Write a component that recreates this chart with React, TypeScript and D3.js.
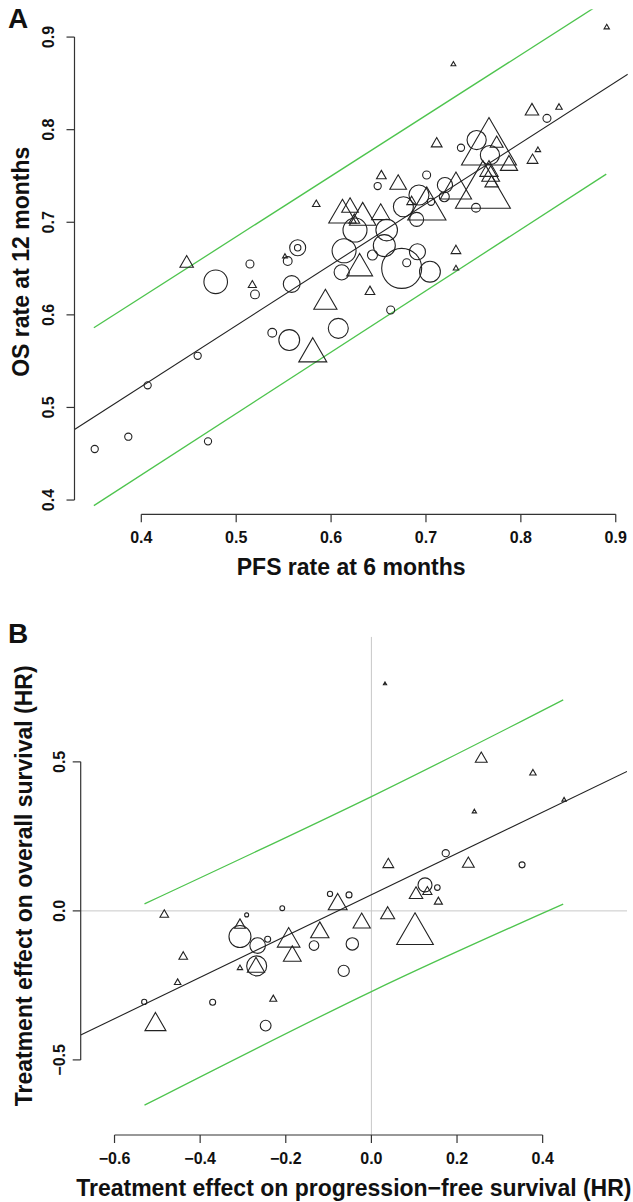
import React from "react";
import * as d3 from "d3";

// ---------- Panel A data: PFS rate at 6 months vs OS rate at 12 months ----------
// circles (pch 1)
const aCircX = [0.3509, 0.3863, 0.4067, 0.4594, 0.4703, 0.4784, 0.5145, 0.5198, 0.5543, 0.5585, 0.5648, 0.5648, 0.538, 0.5559, 0.6076, 0.6628, 0.6112, 0.6137, 0.6252, 0.6586, 0.6561, 0.6436, 0.6744, 0.6797, 0.691, 0.7042, 0.6762, 0.6926, 0.6902, 0.7053, 0.72, 0.7193, 0.7527, 0.7534, 0.7674, 0.7369, 0.6491, 0.7007, 0.8275];
const aCircY = [0.4551, 0.4684, 0.5239, 0.5558, 0.4634, 0.6357, 0.6549, 0.6221, 0.6581, 0.6333, 0.6725, 0.6725, 0.5807, 0.5728, 0.5854, 0.6052, 0.6459, 0.6692, 0.6916, 0.6916, 0.6748, 0.6646, 0.6502, 0.6563, 0.6681, 0.6466, 0.7167, 0.7294, 0.7031, 0.7221, 0.7402, 0.7276, 0.7157, 0.7888, 0.7726, 0.7805, 0.7391, 0.751, 0.8122];
const aCircW = [0.9, 0.9, 0.9, 0.9, 0.9, 2.95, 1.0, 1.1, 1.1, 2.1, 2.0, 0.8, 1.1, 2.6, 2.5, 1.0, 1.9, 3.0, 3.0, 2.7, 2.75, 1.25, 5.0, 1.0, 2.0, 2.6, 2.5, 2.5, 1.75, 0.9, 1.9, 1.25, 1.1, 2.4, 2.4, 0.9, 0.9, 1.0, 1.0];
// triangles (pch 2)
const aTriX = [0.4478, 0.517, 0.5514, 0.594, 0.5807, 0.5844, 0.612, 0.62, 0.6245, 0.6333, 0.6523, 0.6301, 0.641, 0.653, 0.6707, 0.6849, 0.7009, 0.7113, 0.7316, 0.7316, 0.7316, 0.76, 0.7664, 0.7745, 0.7875, 0.7664, 0.7682, 0.7692, 0.8117, 0.8402, 0.818, 0.8123, 0.7289, 0.8905];
const aTriY = [0.6556, 0.632, 0.663, 0.6132, 0.5579, 0.7193, 0.7077, 0.716, 0.7023, 0.705, 0.7086, 0.6502, 0.625, 0.75, 0.7408, 0.7221, 0.7143, 0.7848, 0.7348, 0.6692, 0.6502, 0.7323, 0.7789, 0.7851, 0.7614, 0.7553, 0.7499, 0.7424, 0.82, 0.824, 0.778, 0.767, 0.8705, 0.9105];
const aTriW = [1.25, 0.75, 0.45, 2.15, 2.6, 0.7, 2.55, 1.55, 1.0, 2.45, 1.7, 2.4, 0.9, 0.9, 1.55, 0.9, 3.55, 1.0, 2.9, 0.9, 0.5, 5.1, 5.1, 1.2, 1.6, 1.7, 1.65, 1.25, 1.25, 0.6, 0.5, 1.0, 0.45, 0.5];
// regression line and prediction band
const aFit = { intercept: 0.2594, slope: 0.658 };
const aBandX = [0.35, 0.89];
const aBandUpper = [0.586, 0.94];
const aBandLower = [0.394, 0.752];
const aTicksX = [0.4, 0.5, 0.6, 0.7, 0.8, 0.9];
const aTicksY = [0.4, 0.5, 0.6, 0.7, 0.8, 0.9];

// ---------- Panel B data: treatment effects (log HR) ----------
const bCircX = [0.1736, 0.3519, 0.1252, 0.154, -0.0446, -0.0647, -0.0967, -0.0523, -0.1341, -0.2082, -0.2423, -0.2657, -0.307, -0.2914, -0.268, -0.247, -0.3708, -0.5306];
const bCircY = [0.1936, 0.1544, 0.0872, 0.0783, -0.1107, -0.2013, 0.057, 0.0537, -0.1164, 0.009, -0.095, -0.1164, -0.0862, -0.0134, -0.1846, -0.385, -0.3064, -0.3054];
const bCircW = [0.9, 0.75, 1.75, 0.7, 1.55, 1.4, 0.65, 0.75, 1.2, 0.6, 0.75, 1.95, 2.75, 0.5, 2.5, 1.35, 0.75, 0.65];
const bTriX = [0.0318, 0.0395, 0.2264, 0.2405, 0.2566, 0.3773, 0.45, 0.1042, 0.1307, 0.1564, 0.1019, 0.038, -0.0227, -0.0787, -0.1205, -0.1933, -0.1848, -0.307, -0.2696, -0.307, -0.2292, -0.4395, -0.4526, -0.5044, -0.4838];
const bTriY = [0.762, 0.1557, 0.1577, 0.333, 0.51, 0.462, 0.3725, 0.0547, 0.0638, 0.0305, -0.0772, -0.013, -0.0406, 0.0221, -0.0724, -0.0996, -0.1517, -0.0477, -0.189, -0.192, -0.2963, -0.1537, -0.2406, -0.3815, -0.013];
const bTriW = [0.3, 1.0, 1.1, 0.4, 1.1, 0.6, 0.4, 1.25, 0.85, 0.75, 3.4, 1.3, 1.6, 1.75, 1.7, 2.1, 1.65, 1.0, 1.6, 0.5, 0.65, 0.8, 0.6, 1.95, 0.8];
const bFit = { intercept: 0.054, slope: 0.693 };
const bBandX = [-0.53, 0.0, 0.448];
const bBandUpper = [0.0235, 0.3836, 0.708];
const bBandLower = [-0.652, -0.2708, 0.0225];
const bTicksX = [-0.6, -0.4, -0.2, 0.0, 0.2, 0.4];
const bTicksY = [-0.5, 0.0, 0.5];

const FONT = "'Liberation Sans', Arial, Helvetica, sans-serif";
const GREEN = "#4ec44e";
const INK = "#222";

// symbol size: cex -> radius in px
const sizeScale = d3.scaleLinear().domain([0, 1]).range([0, 4]);

function triPath(cx: number, cy: number, R: number) {
  const p = d3.path();
  p.moveTo(cx, cy - 1.5551 * R);
  p.lineTo(cx + 1.3468 * R, cy + 0.7776 * R);
  p.lineTo(cx - 1.3468 * R, cy + 0.7776 * R);
  p.closePath();
  return p.toString();
}

type PanelProps = {
  id: string;
  letter: string;
  letterY: number;
  box: { left: number; right: number; top: number; bottom: number };
  xDom: [number, number];
  yDom: [number, number];
  circX: number[]; circY: number[]; circW: number[];
  triX: number[]; triY: number[]; triW: number[];
  fit: { intercept: number; slope: number };
  bandX: number[]; bandU: number[]; bandL: number[];
  ticksX: number[]; ticksY: number[];
  fmt: (v: number) => string;
  xTitle: string; yTitle: string;
  yLabelX: number; yTitleX: number;
  refLines: boolean;
};

function Panel(p: PanelProps) {
  const x = d3.scaleLinear().domain(p.xDom).range([p.box.left, p.box.right]);
  const y = d3.scaleLinear().domain(p.yDom).range([p.box.bottom, p.box.top]);
  const clipId = "clip-" + p.id;
  const fitLine = d3.line<number>().x((v) => x(v)).y((v) => y(p.fit.intercept + p.fit.slope * v));
  const band = (vals: number[]) =>
    d3.line<number>()
      .x((_, i) => x(p.bandX[i]))
      .y((v) => y(v))
      .curve(vals.length > 2 ? d3.curveNatural : d3.curveLinear)(vals) || "";
  const cx = (p.box.left + p.box.right) / 2;
  const cy = (p.box.top + p.box.bottom) / 2;
  const tickLen = 8;
  return (
    <g>
      <defs>
        <clipPath id={clipId}>
          <rect x={p.box.left} y={p.box.top} width={p.box.right - p.box.left} height={p.box.bottom - p.box.top} />
        </clipPath>
      </defs>
      <text x={8} y={p.letterY} fontFamily={FONT} fontWeight="bold" fontSize={28} fill="#111">{p.letter}</text>
      <g clipPath={`url(#${clipId})`}>
        {p.refLines && (
          <g stroke="#c8c8c8" strokeWidth={1}>
            <line x1={x(0)} x2={x(0)} y1={p.box.top} y2={p.box.bottom} />
            <line x1={p.box.left} x2={p.box.right} y1={y(0)} y2={y(0)} />
          </g>
        )}
        <path d={band(p.bandU)} fill="none" stroke={GREEN} strokeWidth={1.3} />
        <path d={band(p.bandL)} fill="none" stroke={GREEN} strokeWidth={1.3} />
        <path d={fitLine(p.xDom) || ""} fill="none" stroke={INK} strokeWidth={1.1} />
        {p.circX.map((v, i) => (
          <circle key={"c" + i} cx={x(v)} cy={y(p.circY[i])} r={sizeScale(p.circW[i])} fill="none" stroke={INK} strokeWidth={1.1} />
        ))}
        {p.triX.map((v, i) => (
          <path key={"t" + i} d={triPath(x(v), y(p.triY[i]), sizeScale(p.triW[i]))} fill="none" stroke={INK} strokeWidth={1.1} strokeLinejoin="miter" />
        ))}
      </g>
      {/* y axis */}
      <g stroke="#333" strokeWidth={1.2}>
        <line x1={p.box.left} x2={p.box.left} y1={y(p.ticksY[0])} y2={y(p.ticksY[p.ticksY.length - 1])} />
        {p.ticksY.map((t) => (
          <line key={"yt" + t} x1={p.box.left - tickLen} x2={p.box.left} y1={y(t)} y2={y(t)} />
        ))}
        <line x1={x(p.ticksX[0])} x2={x(p.ticksX[p.ticksX.length - 1])} y1={p.box.bottom} y2={p.box.bottom} />
        {p.ticksX.map((t) => (
          <line key={"xt" + t} x1={x(t)} x2={x(t)} y1={p.box.bottom} y2={p.box.bottom + tickLen} />
        ))}
      </g>
      <g fontFamily={FONT} fontWeight="bold" fontSize={16} fill="#111" textAnchor="middle">
        {p.ticksY.map((t) => (
          <text key={"yl" + t} transform={`translate(${p.yLabelX},${y(t)}) rotate(-90)`}>{p.fmt(t)}</text>
        ))}
        {p.ticksX.map((t) => (
          <text key={"xl" + t} x={x(t)} y={p.box.bottom + 29}>{p.fmt(t)}</text>
        ))}
      </g>
      <g fontFamily={FONT} fontWeight="bold" fontSize={23} fill="#111" textAnchor="middle">
        <text x={cx} y={p.box.bottom + 61}>{p.xTitle}</text>
        <text transform={`translate(${p.yTitleX},${cy}) rotate(-90)`}>{p.yTitle}</text>
      </g>
    </g>
  );
}

export default function App() {
  const fmt1 = d3.format(".1f");
  return (
    <svg width={633} height={1202} style={{ position: "absolute", left: 0, top: 0, background: "#fff" }}>
      <rect width={633} height={1202} fill="#fff" />
      <Panel
        id="a" letter="A" letterY={28}
        box={{ left: 74.5, right: 627.8, top: 9.3, bottom: 514.3 }}
        xDom={[0.3296, 0.9127]} yDom={[0.3846, 0.93]}
        circX={aCircX} circY={aCircY} circW={aCircW}
        triX={aTriX} triY={aTriY} triW={aTriW}
        fit={aFit} bandX={aBandX} bandU={aBandUpper} bandL={aBandLower}
        ticksX={aTicksX} ticksY={aTicksY} fmt={fmt1}
        xTitle="PFS rate at 6 months" yTitle="OS rate at 12 months"
        yLabelX={54} yTitleX={29} refLines={false}
      />
      <Panel
        id="b" letter="B" letterY={643}
        box={{ left: 80.7, right: 627, top: 636.7, bottom: 1135 }}
        xDom={[-0.679, 0.597]} yDom={[-0.752, 0.92]}
        circX={bCircX} circY={bCircY} circW={bCircW}
        triX={bTriX} triY={bTriY} triW={bTriW}
        fit={bFit} bandX={bBandX} bandU={bBandUpper} bandL={bBandLower}
        ticksX={bTicksX} ticksY={bTicksY} fmt={fmt1}
        xTitle="Treatment effect on progression−free survival (HR)" yTitle="Treatment effect on overall survival (HR)"
        yLabelX={65} yTitleX={32} refLines={true}
      />
    </svg>
  );
}
